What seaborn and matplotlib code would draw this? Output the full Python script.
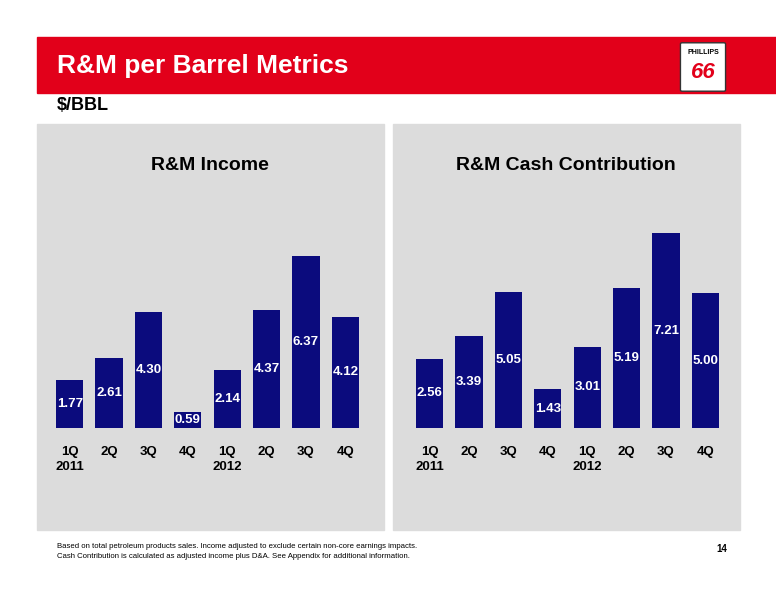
import matplotlib
matplotlib.use("Agg")
import matplotlib.pyplot as plt
import seaborn as sns
import pandas as pd
from matplotlib.patches import Rectangle, FancyBboxPatch

quarters = ["1Q", "2Q", "3Q", "4Q", "1Q", "2Q", "3Q", "4Q"]
tick_labels = ["1Q\n2011", "2Q", "3Q", "4Q", "1Q\n2012", "2Q", "3Q", "4Q"]
income = [1.77, 2.61, 4.30, 0.59, 2.14, 4.37, 6.37, 4.12]
cash = [2.56, 3.39, 5.05, 1.43, 3.01, 5.19, 7.21, 5.00]

sns.set_style("white")
plt.rcParams["font.family"] = ["Liberation Sans", "DejaVu Sans"]
plt.rcParams["text.color"] = "black"
plt.rcParams["xtick.color"] = "black"

W, H = 776, 600
fig = plt.figure(figsize=(W / 100, H / 100), dpi=100)

def fx(x): return x / W
def fy(y): return 1 - y / H

# red banner
fig.patches.append(Rectangle((fx(37), fy(93)), fx(739), 56 / H, transform=fig.transFigure,
                             color="#E2001A", zorder=0))
fig.text(fx(57), fy(66), "R&M per Barrel Metrics", color="white", fontsize=19,
         fontweight="bold", va="center")
# logo
fig.patches.append(FancyBboxPatch((fx(682), fy(90)), 42 / W, 46 / H, transform=fig.transFigure,
                                  boxstyle="round,pad=0.002", fc="white", ec="#333333", lw=1))
fig.text(fx(703), fy(52), "PHILLIPS", fontsize=5, fontweight="bold", ha="center", va="center")
fig.text(fx(703), fy(72), "66", fontsize=16, fontweight="bold", color="#E2001A",
         ha="center", va="center", style="italic")

fig.text(fx(57), fy(106), "$/BBL", fontsize=13, fontweight="bold", va="center")

panels = [(37, "R&M Income", income, 50), (393, "R&M Cash Contribution", cash, 410)]
for px, title, vals, bx in panels:
    fig.patches.append(Rectangle((fx(px), fy(530)), 347 / W, 406 / H, transform=fig.transFigure,
                                 color="#DCDCDC", zorder=0))
    fig.text(fx(px + 173), fy(166), title, fontsize=14, fontweight="bold", ha="center", va="center")
    ax = fig.add_axes([fx(bx), fy(428), 315 / W, 228 / H])
    ax.set_zorder(2)
    ax.patch.set_alpha(0)
    df = pd.DataFrame({"q": range(8), "v": vals})
    sns.barplot(data=df, x="q", y="v", color="#0B0B7D", saturation=1, width=0.69,
                linewidth=0, ax=ax)
    ax.set_ylim(0, 228 / 27)
    ax.set_xlim(-0.5, 7.5)
    for i, v in enumerate(vals):
        ax.text(i, v / 2, f"{v:.2f}", color="white", fontsize=9.5, fontweight="bold",
                va="center", ha="center")
    ax.set_xticks(range(8))
    ax.set_xticklabels(tick_labels, fontsize=9.5, fontweight="bold", va="top", ha="center",
                       linespacing=1.3)
    ax.tick_params(axis="x", length=0, pad=13)
    ax.set_yticks([])
    ax.set_xlabel("")
    ax.set_ylabel("")
    sns.despine(ax=ax, left=True, bottom=True)

fig.text(fx(57), fy(546), "Based on total petroleum products sales. Income adjusted to exclude certain non-core earnings impacts.",
         fontsize=5.6, va="center")
fig.text(fx(57), fy(557), "Cash Contribution is calculated as adjusted income plus D&A. See Appendix for additional information.",
         fontsize=5.6, va="center")
fig.text(fx(722), fy(549), "14", fontsize=7, fontweight="bold", va="center", ha="center")

fig.savefig("out.png", dpi=100)
